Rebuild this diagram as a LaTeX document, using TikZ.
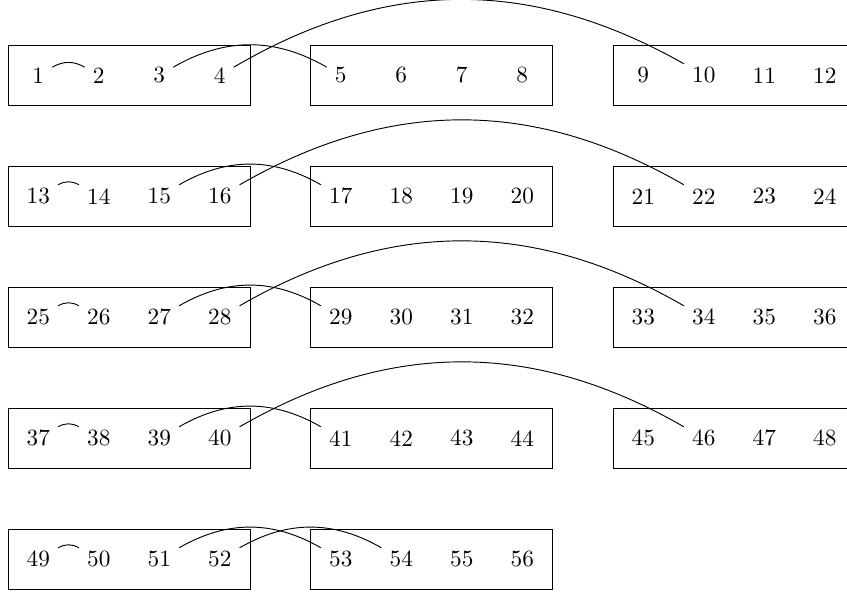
\documentclass[tikz,border=0pt]{standalone}
\begin{document}
\begin{tikzpicture}[x=0.43pt,y=-0.43pt,
  boxstyle/.style={draw,line width=0.4pt,minimum width=242*0.43pt,minimum height=60.5*0.43pt,inner sep=0pt},
  num/.style={inner sep=0.3333em},
  link/.style={line width=0.4pt}]
\clip (0,0) rectangle (847,596);
\useasboundingbox (0,0) rectangle (847,596);
% boxes and numbers
\foreach \r in {0,...,4}{
  \foreach \b in {0,1,2}{
    \ifnum\r=4 \ifnum\b=2 \else
      \node[boxstyle] (box-\r-\b) at ({8+(5*\b+2)*60.5},{45+121*\r+30.25}) {};
      \foreach \p in {0,...,3}{
        \pgfmathtruncatemacro{\k}{12*\r+4*\b+\p+1}
        \node[num] (n\k) at ({8+(5*\b+\p+0.5)*60.5},{45+121*\r+30.25}) {\k};
      }
    \fi\else
      \node[boxstyle] (box-\r-\b) at ({8+(5*\b+2)*60.5},{45+121*\r+30.25}) {};
      \foreach \p in {0,...,3}{
        \pgfmathtruncatemacro{\k}{12*\r+4*\b+\p+1}
        \node[num] (n\k) at ({8+(5*\b+\p+0.5)*60.5},{45+121*\r+30.25}) {\k};
      }
    \fi
  }
}
% connectors
\draw[link] (n1) to[bend left] (n2);
\draw[link] (n3) to[bend left] (n5);
\draw[link] (n4) to[bend left] (n10);
\draw[link] (n13) to[bend left] (n14);
\draw[link] (n15) to[bend left] (n17);
\draw[link] (n16) to[bend left] (n22);
\draw[link] (n25) to[bend left] (n26);
\draw[link] (n27) to[bend left] (n29);
\draw[link] (n28) to[bend left] (n34);
\draw[link] (n37) to[bend left] (n38);
\draw[link] (n39) to[bend left] (n41);
\draw[link] (n40) to[bend left] (n46);
\draw[link] (n49) to[bend left] (n50);
\draw[link] (n51) to[bend left] (n53);
\draw[link] (n52) to[bend left] (n54);
\end{tikzpicture}
\end{document}
